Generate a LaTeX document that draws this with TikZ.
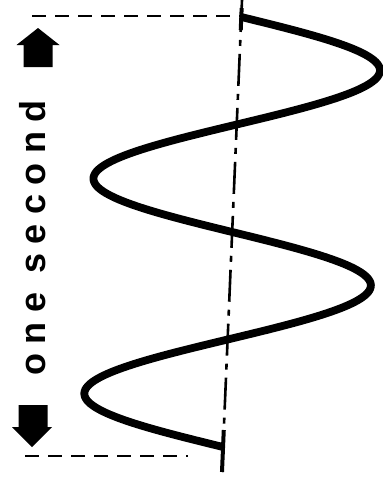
\documentclass[tikz,border=0pt]{standalone}
\usepackage{fontspec}
\newfontfamily\lblfont{Liberation Sans}[LetterSpace=26]
\usetikzlibrary{calc}

\begin{document}
\begin{tikzpicture}[x=0.5pt,y=-0.5pt,
    wave/.style={line width=3.9pt,line join=round},
    axisline/.style={line width=1.3pt,dash pattern=on 16pt off 4pt on 3pt off 4pt},
    tickline/.style={line width=2pt},
    guide/.style={line width=1.4pt,dash pattern=on 7pt off 4.5pt},
    blockarrow/.style={fill=black}]
  \def\xa{242}     % axis at y=0
  \def\sl{0.0424}  % tilt of the axis
  \def\amp{141}    % amplitude
  \def\per{215}    % period
  \useasboundingbox (0,0) rectangle (382,487);
  % axis and ends of the wave
  \coordinate (axtop) at (\xa,0);
  \coordinate (axbot) at ({\xa-\sl*472},472);
  \coordinate (wtop) at ({\xa-\sl*17},17);
  \coordinate (wbot) at ({\xa-\sl*447},447);
  \draw[axisline] (axtop) -- (axbot);
  \draw[tickline] ({\xa-\sl*8},8) -- ({\xa-\sl*30},30);
  \draw[tickline] ({\xa-\sl*430},430) -- (axbot);
  % the wave
  \draw[wave] plot[domain=17:447,samples=240,smooth]
    ({\xa-\sl*\x+\amp*sin(360/\per*(\x-17))},\x);
  % guide lines
  \coordinate (gtl) at (32,16);
  \coordinate (gbl) at (25,456);
  \coordinate (gbr) at (188,456);
  \draw[guide] (gtl) -- (gtl -| wtop);
  \draw[guide] (gbl) -- (gbr);
  % block arrows
  \fill[blockarrow] (38,28) -- (59.5,45) -- (52.5,45) -- (52.5,67)
    -- (23.5,67) -- (23.5,45) -- (16.5,45) -- cycle;
  \fill[blockarrow] (32,447) -- (52,427) -- (47.5,427) -- (47.5,405)
    -- (18.5,405) -- (18.5,427) -- (12,427) -- cycle;
  \node[rotate=90,anchor=base,inner sep=0pt,font=\lblfont\bfseries\fontsize{18}{20}\selectfont]
    (lbl) at (46,238) {one second};
\end{tikzpicture}
\end{document}
